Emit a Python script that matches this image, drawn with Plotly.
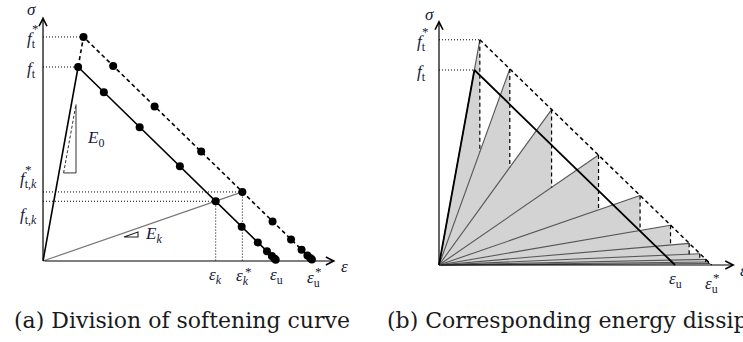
import plotly.graph_objects as go

# ---- softening law, normalised so that f_t = 1 and eps_u = 1 ----
f_t = 1.0
eps_0 = 0.150            # strain at peak stress
eps_u = 1.0
f_t_star = 1.155         # peak of the scaled (dashed) curve
eps_0_star = 0.173
eps_u_star = 1.155

# division points on the softening branch (secant stiffness halves each step)
eps_k = [0.150, 0.260, 0.413, 0.585, 0.738, 0.849, 0.918, 0.957, 0.978, 0.989, 0.9945]
sig_k = [1.000, 0.870, 0.690, 0.488, 0.308, 0.177, 0.096, 0.050, 0.0255, 0.0129, 0.0065]
# matching points on the scaled curve (same secant rays)
eps_ks = [0.173, 0.300, 0.477, 0.676, 0.852, 0.981, 1.060, 1.105, 1.130, 1.142, 1.149]
sig_ks = [1.155, 1.005, 0.797, 0.564, 0.356, 0.204, 0.111, 0.058, 0.029, 0.015, 0.0075]
k_sel = 4                # the highlighted step k

# slope triangles: [base start, base end, base height]
tri_E0 = [0.088, 0.141, 0.454]
tri_Ek = [0.346, 0.406, 0.124]

# axis extents
eps_axis_end = [1.25, 1.254]
sig_axis_end = [1.26, 1.256]

captions = ["(a) Division of softening curve", "(b) Corresponding energy dissipation"]

MATH = dict(family="Liberation Serif", size=17, color="#141a3a")
BLACK = "#000000"

fig = go.Figure()
AX = {"a": ("x", "y"), "b": ("x2", "y2")}


def line(xs, ys, p, color=BLACK, width=1.5, dash="solid", fill=None, fillcolor=None):
    xa, ya = AX[p]
    fig.add_trace(go.Scatter(
        x=xs, y=ys, xaxis=xa, yaxis=ya, mode="lines",
        line=dict(color=color, width=width, dash=dash),
        fill=fill, fillcolor=fillcolor, hoverinfo="skip", showlegend=False))


def dots(xs, ys, p):
    xa, ya = AX[p]
    fig.add_trace(go.Scatter(
        x=xs, y=ys, xaxis=xa, yaxis=ya, mode="markers",
        marker=dict(color=BLACK, size=8), hoverinfo="skip", showlegend=False))


ann = []


def label(text, x, y, p, xanchor="center", yanchor="middle", xs=0, ys=0, size=17):
    xa, ya = AX[p]
    ann.append(dict(text=text, x=x, y=y, xref=xa, yref=ya, showarrow=False,
                    xanchor=xanchor, yanchor=yanchor, xshift=xs, yshift=ys,
                    font=dict(MATH, size=size)))


def arrow_axis(x, y, p):
    xa, ya = AX[p]
    ann.append(dict(text="", x=x, y=y, ax=0, ay=0, xref=xa, yref=ya,
                    axref=xa, ayref=ya, showarrow=True, arrowhead=5,
                    arrowsize=1.3, arrowwidth=1.2, arrowcolor=BLACK))


DOT = "1px,2px"
DASH = "4px,3px"

# ================= panel (a) =================
k = k_sel
E_0 = f_t / eps_0
E_k = sig_k[k] / eps_k[k]

# secant E_k ray
line([0, eps_ks[k]], [0, sig_ks[k]], "a", color="#777777", width=1.2)
# dotted guides
line([0, eps_0_star], [f_t_star, f_t_star], "a", width=1, dash=DOT)
line([0, eps_0], [f_t, f_t], "a", width=1, dash=DOT)
line([0, eps_ks[k], eps_ks[k]], [sig_ks[k], sig_ks[k], 0], "a", width=1, dash=DOT)
line([0, eps_k[k], eps_k[k]], [sig_k[k], sig_k[k], 0], "a", width=1, dash=DOT)
# softening curve and its scaled version
line([0, eps_0, eps_u], [0, f_t, 0], "a", width=1.6)
line([eps_0, eps_0_star, eps_u_star], [f_t, f_t_star, 0], "a", width=1.6, dash=DASH)
dots(eps_k, sig_k, "a")
dots(eps_ks, sig_ks, "a")
# slope triangles
a0, b0, h0 = tri_E0
line([a0, b0, b0], [h0, h0, h0 + E_0 * (b0 - a0)], "a", color="#333333", width=1)
line([a0, b0], [h0, h0 + E_0 * (b0 - a0)], "a", color="#333333", width=1, dash="3px,2px")
a1, b1, h1 = tri_Ek
line([a1, b1, b1, a1], [h1, h1, h1 + E_k * (b1 - a1), h1], "a", color="#222222", width=1.1)

# axes
arrow_axis(eps_axis_end[0], 0, "a")
arrow_axis(0, sig_axis_end[0], "a")

# labels
label("<i>σ</i>", 0, sig_axis_end[0], "a", xanchor="right", yanchor="bottom", xs=-5, ys=-4, size=17)
label("<i>ε</i>", eps_axis_end[0], 0, "a", xanchor="left", yanchor="middle", xs=3, ys=-5, size=17)
label("<i>f</i><sub>t</sub>", 0, f_t_star, "a", xanchor="right", xs=-5, ys=-3)
label("*", 0, f_t_star, "a", xanchor="right", xs=-2, ys=8, size=13)
label("<i>f</i><sub>t</sub>", 0, f_t, "a", xanchor="right", xs=-5, ys=-3)
label("<i>f</i><sub>t,<i>k</i></sub>", 0, sig_ks[k], "a", xanchor="right", xs=-4, ys=12)
label("*", 0, sig_ks[k], "a", xanchor="right", xs=-9, ys=22, size=13)
label("<i>f</i><sub>t,<i>k</i></sub>", 0, sig_k[k], "a", xanchor="right", xs=-4, ys=-15)
label("<i>E</i><sub>0</sub>", b0, (h0 + h0 + E_0 * (b0 - a0)) / 2, "a", xanchor="left", xs=9, ys=0)
label("<i>E<sub>k</sub></i>", b1, h1, "a", xanchor="left", xs=5, ys=2)
label("<i>ε<sub>k</sub></i>", eps_k[k], 0, "a", yanchor="top", xs=0, ys=-2)
label("<i>ε<sub>k</sub></i>", eps_ks[k], 0, "a", yanchor="top", xs=0, ys=-3)
label("*", eps_ks[k], 0, "a", yanchor="top", xs=6, ys=-1, size=13)
label("<i>ε</i><sub>u</sub>", eps_u, 0, "a", yanchor="top", xs=-1, ys=-2)
label("<i>ε</i><sub>u</sub>", eps_u_star, 0, "a", yanchor="top", xs=0, ys=-5)
label("*", eps_u_star, 0, "a", yanchor="top", xs=5, ys=-1, size=13)

# ================= panel (b) =================
n = len(eps_ks)
# dissipated-energy triangles between consecutive secant rays
for i in range(n - 1):
    slope_next = sig_ks[i + 1] / eps_ks[i + 1]
    q = eps_ks[i] * slope_next
    line([0, eps_ks[i], eps_ks[i], 0], [0, sig_ks[i], q, 0], "b",
         color="rgba(0,0,0,0)", width=0, fill="toself", fillcolor="#d3d3d3")
# secant rays
for i in range(n):
    line([0, eps_ks[i]], [0, sig_ks[i]], "b", color="#555555", width=1.1)
# vertical unloading lines
for i in range(n - 1):
    slope_next = sig_ks[i + 1] / eps_ks[i + 1]
    line([eps_ks[i], eps_ks[i]], [sig_ks[i], eps_ks[i] * slope_next], "b", width=1.2, dash=DASH)
# dotted guides
line([0, eps_0_star], [f_t_star, f_t_star], "b", width=1, dash=DOT)
line([0, eps_0], [f_t, f_t], "b", width=1, dash=DOT)
# curves
line([0, eps_0, eps_u], [0, f_t, 0], "b", width=1.8)
line([eps_0_star, eps_u_star], [f_t_star, 0], "b", width=1.5, dash=DASH)

arrow_axis(eps_axis_end[1], 0, "b")
arrow_axis(0, sig_axis_end[1], "b")

label("<i>σ</i>", 0, sig_axis_end[1], "b", xanchor="right", yanchor="bottom", xs=-3, ys=-6, size=17)
label("<i>ε</i>", eps_axis_end[1], 0, "b", xanchor="left", yanchor="middle", xs=3, ys=-5, size=17)
label("<i>f</i><sub>t</sub>", 0, f_t_star, "b", xanchor="right", xs=-11, ys=-3)
label("*", 0, f_t_star, "b", xanchor="right", xs=-8, ys=8, size=13)
label("<i>f</i><sub>t</sub>", 0, f_t, "b", xanchor="right", xs=-11, ys=-3)
label("<i>ε</i><sub>u</sub>", eps_u, 0, "b", yanchor="top", xs=0, ys=-2)
label("<i>ε</i><sub>u</sub>", eps_u_star, 0, "b", yanchor="top", xs=0, ys=-7)
label("*", eps_u_star, 0, "b", yanchor="top", xs=5, ys=-3, size=13)

# captions
CAP = dict(family="DejaVu Serif", size=22, color="#1a1a1a")
ann.append(dict(text=captions[0], x=182 / 743, y=0.062, xref="paper", yref="paper",
                showarrow=False, xanchor="center", yanchor="middle", font=CAP))
ann.append(dict(text=captions[1], x=385 / 743, y=0.062, xref="paper", yref="paper",
                showarrow=False, xanchor="left", yanchor="middle", font=CAP))

hidden = dict(visible=False, showgrid=False, zeroline=False, fixedrange=True)
fig.update_layout(
    width=743, height=342, autosize=False,
    margin=dict(l=0, r=0, t=0, b=0, pad=0),
    paper_bgcolor="white", plot_bgcolor="rgba(0,0,0,0)",
    xaxis=dict(hidden, domain=[0, 380 / 743], range=[-0.1838, 1.4402], anchor="y"),
    yaxis=dict(hidden, domain=[0, 1], range=[-0.4175, 1.3454], anchor="x"),
    xaxis2=dict(hidden, domain=[380 / 743, 1], range=[-0.25, 1.2881], anchor="y2"),
    yaxis2=dict(hidden, domain=[0, 1], range=[-0.3949, 1.359], anchor="x2"),
    annotations=ann,
)

fig.write_html("out.html")
